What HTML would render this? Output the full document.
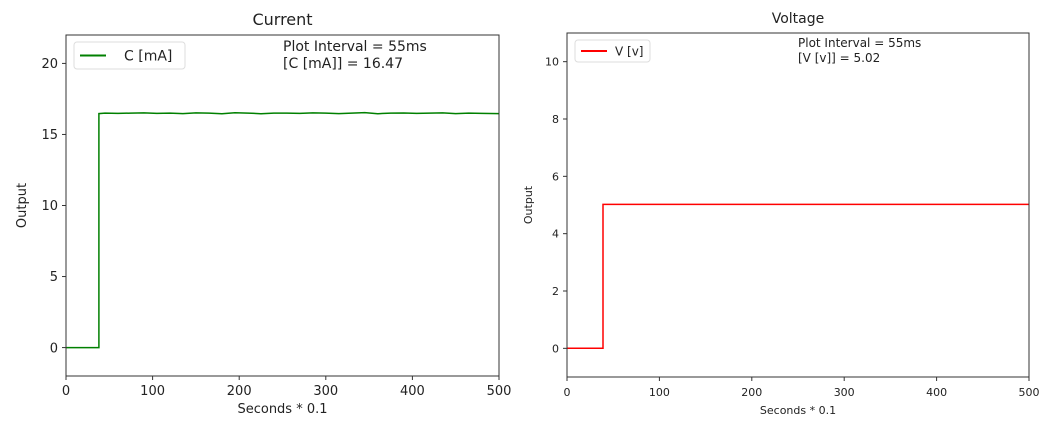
<!DOCTYPE html>
<html><head><meta charset="utf-8">
<style>
body{margin:0;background:#fff;width:1057px;height:429px;overflow:hidden;font-family:"DejaVu Sans","Liberation Sans",sans-serif;}
svg text{font-family:"DejaVu Sans","Liberation Sans",sans-serif;fill:#222;}
</style></head>
<body>
<svg id="chart" width="1057" height="429" viewBox="0 0 1057 429"></svg>
<script>
const xTicks=[0,100,200,300,400,500];
const cTicks=[0,5,10,15,20];
const vTicks=[0,2,4,6,8,10];
const cTimes=[0,38,38,45,60,75,90,105,120,135,150,165,180,195,210,225,240,255,270,285,300,315,330,345,360,375,390,405,420,435,450,465,480,500];
const cValues=[0,0,16.47,16.5,16.48,16.5,16.52,16.48,16.5,16.47,16.52,16.5,16.46,16.53,16.5,16.46,16.5,16.5,16.48,16.52,16.5,16.47,16.5,16.54,16.46,16.5,16.51,16.48,16.5,16.52,16.47,16.5,16.48,16.47];
const vTimes=[0,39,39,500];
const vValues=[0,0,5.02,5.02];

const svg=document.getElementById('chart');
const NS='http://www.w3.org/2000/svg';
function mk(tag,attrs,parent){const e=document.createElementNS(NS,tag);for(const k in attrs)e.setAttribute(k,attrs[k]);(parent||svg).appendChild(e);return e;}

function panel(cfg){
  const g=mk('g',{});
  
  
  const X=v=>cfg.x0+(v-0)/(500-0)*(cfg.x1-cfg.x0);
  const Y=v=>cfg.y1-(v-cfg.ymin)/(cfg.ymax-cfg.ymin)*(cfg.y1-cfg.y0);
  const fs=cfg.fs;
  const t=mk('text',{x:(cfg.x0+cfg.x1)/2,y:cfg.y0-10,'text-anchor':'middle','font-size':cfg.tfs},g);
  t.textContent=cfg.title;
  
  
  xTicks.forEach(v=>{
    mk('line',{x1:X(v),x2:X(v),y1:cfg.y1,y2:cfg.y1+4,stroke:'#333'},g);
    const l=mk('text',{x:X(v),y:cfg.y1+19,'text-anchor':'middle','font-size':fs},g);
    l.textContent=v;
    
    
  });
  cfg.yTicks.forEach(v=>{
    mk('line',{x1:cfg.x0-4,x2:cfg.x0,y1:Y(v),y2:Y(v),stroke:'#333'},g);
    const l=mk('text',{x:cfg.x0-8,y:Y(v)+fs*0.36,'text-anchor':'end','font-size':fs},g);
    l.textContent=v;
    
    
  });
  const xl=mk('text',{x:(cfg.x0+cfg.x1)/2,y:cfg.y1+37,'text-anchor':'middle','font-size':fs},g);
  xl.textContent='Seconds * 0.1';
  
  
  const yl=mk('text',{x:0,y:0,'text-anchor':'middle','font-size':fs,transform:`translate(${cfg.x0-cfg.ylOff},${(cfg.y0+cfg.y1)/2}) rotate(-90)`},g);
  yl.textContent='Output';
  
  
  let d='';
  cfg.times.forEach((tt,i)=>{
    const px=X(tt),py=Y(cfg.values[i]);
    d+=(i?'L':'M')+px.toFixed(1)+','+py.toFixed(1);
  });
  const p=mk('path',{d:d,fill:'none',stroke:cfg.color,'stroke-width':1.5},g);
  
  
  const r=mk('rect',{x:cfg.x0,y:cfg.y0,width:cfg.x1-cfg.x0,height:cfg.y1-cfg.y0,fill:'none',stroke:'#333','stroke-width':1},g);
  
  
  const lg=mk('g',{},g);
  
  
  mk('rect',{x:cfg.x0+8,y:cfg.y0+7,width:cfg.legW,height:cfg.legH,rx:3,fill:'#fff',stroke:'#ddd'},lg);
  mk('line',{x1:cfg.x0+14,x2:cfg.x0+40,y1:cfg.y0+7+cfg.legH/2,y2:cfg.y0+7+cfg.legH/2,stroke:cfg.color,'stroke-width':2},lg);
  const lt=mk('text',{x:cfg.x0+cfg.legTx,y:cfg.y0+7+cfg.legH/2+cfg.afs*0.36,'font-size':cfg.afs},lg);
  lt.textContent=cfg.legend;
  const a1=mk('text',{x:cfg.annX,y:cfg.y0+cfg.afs+2,'font-size':cfg.afs},g);
  a1.textContent='Plot Interval = 55ms';
  
  
  const a2=mk('text',{x:cfg.annX,y:cfg.y0+2*cfg.afs+5,'font-size':cfg.afs},g);
  a2.textContent=cfg.ann2;
  
  
}
panel({name:'current',title:'Current',x0:66,x1:499,y0:35,y1:376,ymin:-2,ymax:22,yTicks:cTicks,times:cTimes,values:cValues,color:'#008000',legend:'C [mA]',legW:111,legH:27,legTx:58,annX:283,ann2:'[C [mA]] = 16.47',fs:13,afs:14,tfs:16,ylOff:40});
panel({name:'voltage',title:'Voltage',x0:567,x1:1029,y0:33,y1:377,ymin:-1,ymax:11,yTicks:vTicks,times:vTimes,values:vValues,color:'#ff0000',legend:'V [v]',legW:75,legH:22,legTx:48,annX:798,ann2:'[V [v]] = 5.02',fs:11,afs:12,tfs:14,ylOff:35});
</script>
</body></html>
